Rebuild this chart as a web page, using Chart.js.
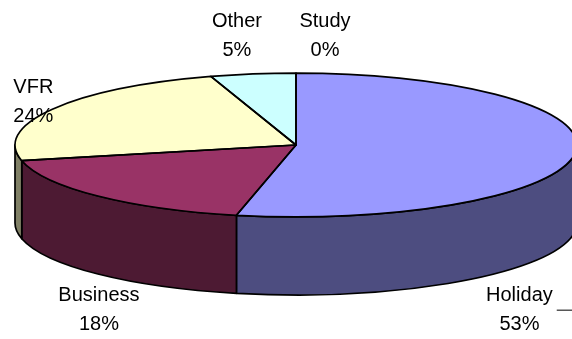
<!DOCTYPE html>
<html>
<head>
<meta charset="utf-8">
<script src="https://cdn.jsdelivr.net/npm/chart.js@4.4.1/dist/chart.umd.min.js"></script>
<style>
  html, body { margin: 0; padding: 0; background: #fff; }
  #wrap { width: 572px; height: 339px; }
</style>
</head>
<body>
<div id="wrap"><canvas id="pie"></canvas></div>
<script>
// Data
const categories = ['Holiday', 'Business', 'VFR', 'Other', 'Study'];
const shares = [53.4, 18.1, 23.6, 4.9, 0];

// Excel-like palette, top face and darker side wall
const topColors = ['#9999FF', '#993366', '#FFFFCC', '#CCFFFF', '#660066'];
const sideColors = ['#4D4D80', '#4D1A33', '#808066', '#668080', '#330033'];

// 3D look
const TILT = 0.256;   // vertical squash of the top face
const DEPTH = 78;     // height of the side wall

// where each label sits relative to its slice anchor
const labelNudge = [[-56, 70], [1, 27], [-19, -16], [-16, -47], [29, -46]];
const LINE_GAP = 29;

const pie3d = {
    id: 'pie3d',
    beforeDatasetsDraw(chart) {
        const ctx = chart.ctx;
        const arcs = chart.getDatasetMeta(0).data;

        // side walls, only the front half is visible
        ctx.save();
        ctx.lineWidth = 1.7;
        ctx.strokeStyle = '#000';
        ctx.lineJoin = 'round';
        arcs.forEach((arc, i) => {
            const s = Math.max(arc.startAngle, 0);
            const e = Math.min(arc.endAngle, Math.PI);
            if (e <= s) return;
            const r = arc.outerRadius;
            ctx.beginPath();
            ctx.ellipse(arc.x, arc.y, r, r * TILT, 0, s, e);
            ctx.ellipse(arc.x, arc.y + DEPTH, r, r * TILT, 0, e, s, true);
            ctx.closePath();
            ctx.fillStyle = sideColors[i];
            ctx.fill();
            ctx.stroke();
        });
        ctx.restore();

        // squash the top face that chart.js draws next
        const { x, y } = arcs[0];
        ctx.save();
        ctx.translate(x, y);
        ctx.scale(1, TILT);
        ctx.translate(-x, -y);
    },
    afterDatasetsDraw(chart) {
        const ctx = chart.ctx;
        ctx.restore();

        // outlines drawn unsquashed so the line width stays even
        const arcs = chart.getDatasetMeta(0).data;
        ctx.save();
        ctx.lineWidth = 1.7;
        ctx.strokeStyle = '#000';
        ctx.lineJoin = 'round';
        arcs.forEach(arc => {
            if (arc.endAngle - arc.startAngle <= 0) return;
            const r = arc.outerRadius;
            ctx.beginPath();
            ctx.moveTo(arc.x, arc.y);
            ctx.ellipse(arc.x, arc.y, r, r * TILT, 0, arc.startAngle, arc.endAngle);
            ctx.closePath();
            ctx.stroke();
        });
        ctx.restore();
    },
    afterDraw(chart) {
        const ctx = chart.ctx;
        const arcs = chart.getDatasetMeta(0).data;
        const total = shares.reduce((a, b) => a + b, 0);
        ctx.save();
        ctx.font = '20px "Liberation Sans", Arial, sans-serif';
        ctx.fillStyle = '#000';
        ctx.textAlign = 'center';
        ctx.textBaseline = 'alphabetic';
        arcs.forEach((arc, i) => {
            const mid = (arc.startAngle + arc.endAngle) / 2;
            const r = arc.outerRadius;
            let ax = arc.x + r * Math.cos(mid);
            let ay = arc.y + r * TILT * Math.sin(mid);
            if (Math.sin(mid) > 0) ay += DEPTH;
            const tx = ax + labelNudge[i][0];
            const ty = ay + labelNudge[i][1];
            const pct = Math.round(shares[i] / total * 100) + '%';
            ctx.fillText(categories[i], tx, ty);
            ctx.fillText(pct, tx, ty + LINE_GAP);

            // leader line for the label pushed off the right edge
            if (i === 0) {
                const w = ctx.measureText(categories[i]).width;
                ctx.beginPath();
                ctx.moveTo(tx + w / 2 + 4, ty + 9.5);
                ctx.lineTo(chart.width, ty + 9.5);
                ctx.lineWidth = 1;
                ctx.strokeStyle = '#000';
                ctx.stroke();
            }
        });
        ctx.restore();
    }
};

new Chart(document.getElementById('pie'), {
    type: 'pie',
    data: {
        labels: categories,
        datasets: [{
            data: shares,
            backgroundColor: topColors,
            borderWidth: 0,
            radius: 281,
            clip: false
        }]
    },
    options: {
        responsive: true,
        maintainAspectRatio: false,
        animation: false,
        layout: {
            padding: { left: 20, right: 0, top: 0, bottom: 49 }
        },
        plugins: {
            legend: { display: false },
            tooltip: { enabled: false }
        }
    },
    plugins: [pie3d]
});
</script>
</body>
</html>
